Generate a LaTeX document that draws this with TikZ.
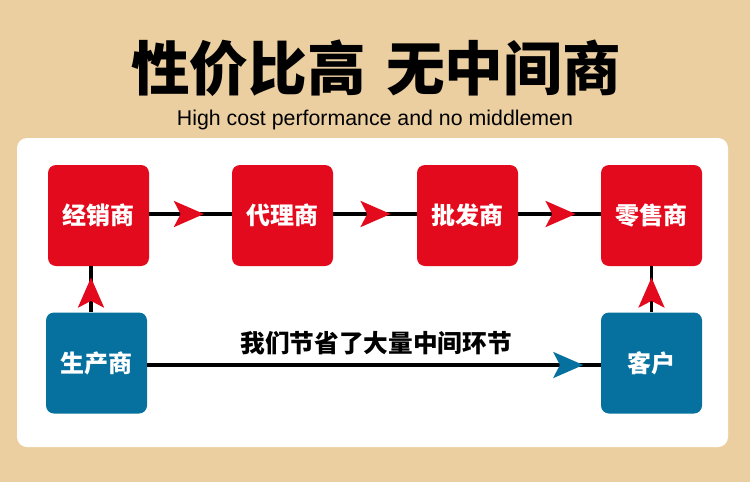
\documentclass[tikz,border=0pt]{standalone}
\usepackage{fontspec}
\setmainfont{Liberation Sans}
\newfontfamily\cjk{Noto Sans CJK SC}
\usetikzlibrary{arrows.meta,decorations.markings}
\definecolor{bgtan}{RGB}{235,207,161}
\definecolor{boxred}{RGB}{226,10,28}
\definecolor{boxblue}{RGB}{6,113,158}
\tikzset{
  redbox/.style  = {fill=boxred, rounded corners=6pt, minimum width=75.75pt,
                    minimum height=75.75pt, inner sep=0pt, text=white,
                    font=\cjk\bfseries\fontsize{18}{20}\selectfont},
  bluebox/.style = {redbox, fill=boxblue},
  link/.style    = {line width=2.4pt, black},
  midtip/.style 2 args = {postaction={decorate, decoration={markings,
                    mark=at position #1 with {\arrow{Stealth[length=22.5pt,
                    width=19.5pt, inset=5pt, #2]}}}}},
}
\begin{document}
\begin{tikzpicture}[x=0.75pt, y=-0.75pt]
% ---------------- background ----------------
\fill[bgtan] (0,0) rectangle (750,482);
\useasboundingbox (0,0) rectangle (750,482);
\fill[white, rounded corners=7.5pt] (17,138) rectangle (728,447);
% ---------------- titles ----------------
\node[font=\cjk\bfseries\fontsize{44}{48}\selectfont] (title) at (376,68)
   {性价比高\hspace{0.35em}无中间商};
\node[font=\fontsize{16}{18}\selectfont] (subtitle) at (375,120)
   {High cost performance and no middlemen};
% ---------------- boxes ----------------
\node[redbox] (dist) at (98.5,215.5) {经销商};
\node[redbox] (agent) at (282.5,215.5) {代理商};
\node[redbox] (whole) at (467.5,215.5) {批发商};
\node[redbox] (retail) at (651.5,215.5) {零售商};
\node[bluebox] (maker) at (96.5,363) {生产商};
\node[bluebox] (client) at (651.5,363) {客户};
% ---------------- connectors ----------------
\draw[link, midtip={41pt}{boxred}] (dist.east |- 0,214) -- (agent.west |- 0,214);
\draw[link, midtip={43pt}{boxred}] (agent.east |- 0,214) -- (whole.west |- 0,214);
\draw[link, midtip={43pt}{boxred}] (whole.east |- 0,214) -- (retail.west |- 0,214);
\draw[link, midtip={26pt}{boxred}] (maker.north -| 91,0) -- (dist.south -| 91,0);
\draw[link, midtip={26pt}{boxred}] (client.north) -- (retail.south);
\draw[link, midtip={327pt}{boxblue}] (maker.east |- 0,365) -- (client.west |- 0,365);
\node[font=\cjk\bfseries\fontsize{18.5}{20}\selectfont] (saving) at (376,343)
   {我们节省了大量中间环节};
\end{tikzpicture}
\end{document}
